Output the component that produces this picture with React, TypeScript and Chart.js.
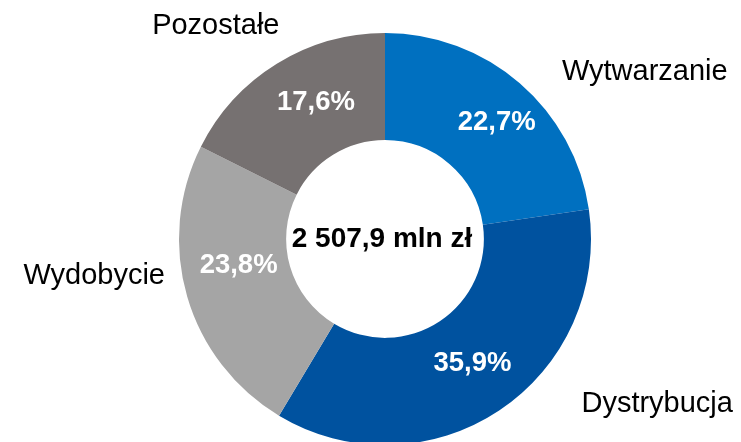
import React, { useEffect, useRef } from "react";
import { Chart, registerables } from "chart.js";

Chart.register(...registerables);

const categories = ["Wytwarzanie", "Dystrybucja", "Wydobycie", "Pozostałe"];
const shares = [22.7, 35.9, 23.8, 17.6];
const percentLabels = ["22,7%", "35,9%", "23,8%", "17,6%"];
const centerLabel = "2 507,9 mln zł";
const colors = ["#0070C0", "#00529F", "#A5A5A5", "#767171"];

// label nudges (pixels) relative to arc-derived anchors
const pctNudge = [[12, -1], [3, -2.5], [0, -16], [11, -6.5]];
const nameNudge = [[125, -11], [158, -6], [-93, -20.5], [-61, -38]];

const labelPlugin = {
  id: "donutLabels",
  afterDatasetsDraw(chart: any) {
    const ctx = chart.ctx;
    const meta = chart.getDatasetMeta(0);
    ctx.save();
    ctx.textAlign = "center";
    ctx.textBaseline = "middle";
    meta.data.forEach((arc: any, i: number) => {
      const p = arc.getProps(["x", "y", "startAngle", "endAngle", "innerRadius", "outerRadius"], true);
      const mid = (p.startAngle + p.endAngle) / 2;
      const rm = (p.innerRadius + p.outerRadius) / 2;
      ctx.fillStyle = "#FFFFFF";
      ctx.font = "bold 27.5px 'Liberation Sans', Arial, sans-serif";
      ctx.fillText(
        percentLabels[i],
        p.x + rm * Math.cos(mid) + pctNudge[i][0],
        p.y + rm * Math.sin(mid) + pctNudge[i][1]
      );
      ctx.fillStyle = "#000000";
      ctx.font = "29px 'Liberation Sans', Arial, sans-serif";
      ctx.fillText(
        categories[i],
        p.x + p.outerRadius * Math.cos(mid) + nameNudge[i][0],
        p.y + p.outerRadius * Math.sin(mid) + nameNudge[i][1]
      );
    });
    const a0 = meta.data[0];
    if (a0) {
      ctx.fillStyle = "#000000";
      ctx.font = "bold 28px 'Liberation Sans', Arial, sans-serif";
      ctx.fillText(centerLabel, a0.x - 3, a0.y + 0.5);
    }
    ctx.restore();
  },
};

export default function App() {
  const ref = useRef<HTMLCanvasElement | null>(null);
  useEffect(() => {
    document.body.style.margin = "0";
    if (!ref.current) return;
    const chart = new Chart(ref.current, {
      type: "doughnut",
      data: {
        labels: categories,
        datasets: [
          {
            data: shares,
            backgroundColor: colors,
            borderWidth: 0,
          },
        ],
      },
      options: {
        responsive: false,
        animation: false,
        cutout: "48%",
        layout: { padding: { left: 179, right: 150, top: 33, bottom: 5 } },
        plugins: {
          legend: { display: false },
          tooltip: { enabled: false },
        },
      },
      plugins: [labelPlugin],
    });
    return () => chart.destroy();
  }, []);
  return (
    <div style={{ width: 741, height: 450, background: "#fff" }}>
      <canvas ref={ref} width={741} height={450} style={{ display: "block" }} />
    </div>
  );
}
